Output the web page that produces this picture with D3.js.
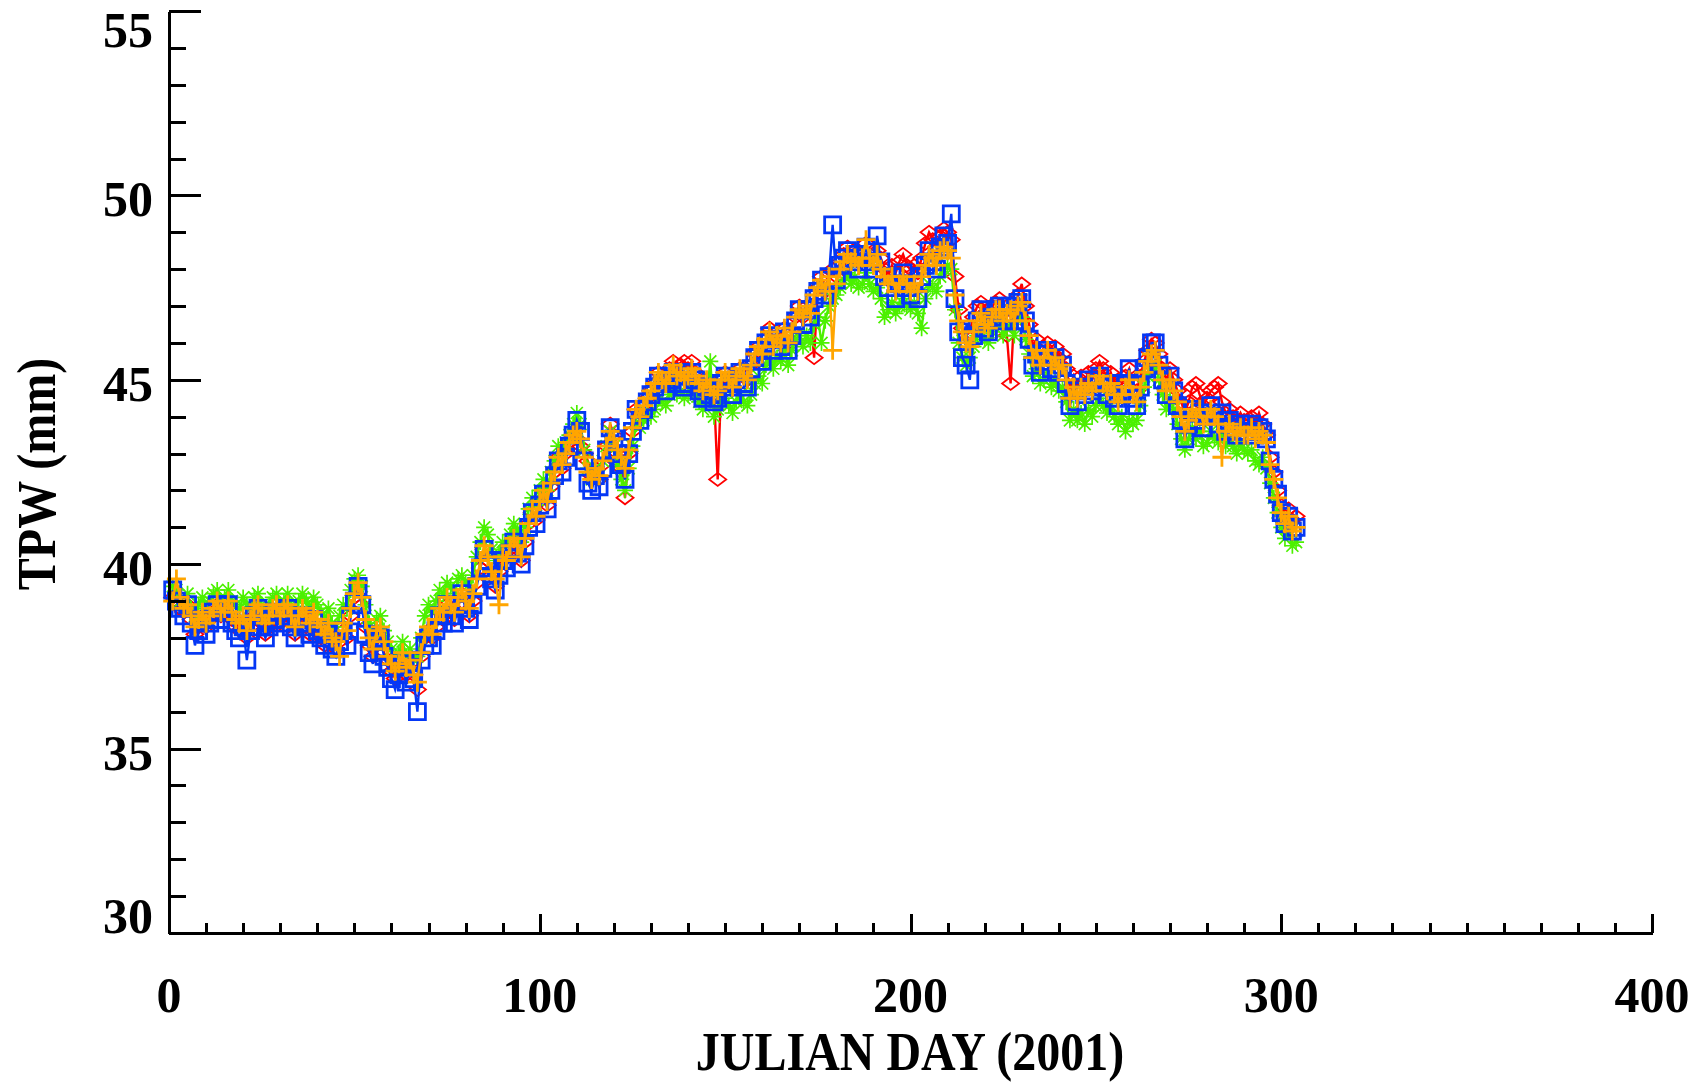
<!DOCTYPE html>
<html>
<head>
<meta charset="utf-8">
<script src="https://cdn.jsdelivr.net/npm/d3@7"></script>
<style>
  html, body { margin: 0; padding: 0; background: #ffffff; }
  svg { display: block; }
  text { font-family: "Liberation Serif", "Times New Roman", serif; font-weight: bold; fill: #000; }
</style>
</head>
<body>
<svg id="chart" width="1708" height="1084"></svg>
<script>
// Total precipitable water (mm) per Julian day of 2001, four retrievals.
const firstDay = 1;
const xTicks = [0, 100, 200, 300, 400];
const yTicks = [30, 35, 40, 45, 50, 55];
const xLabel = "JULIAN DAY (2001)";
const yLabel = "TPW (mm)";

const redValues = [
  39.1,39.0,38.8,38.7,38.9,38.5,38.1,38.3,38.6,38.3,
  38.5,38.7,38.9,38.6,38.8,38.9,38.5,38.3,38.2,38.4,
  38.0,38.3,38.6,38.8,38.4,38.1,38.3,38.5,38.7,38.4,
  38.6,38.8,38.4,38.1,38.4,38.6,38.3,38.1,38.4,38.2,
  38.0,37.8,38.1,37.8,37.7,37.9,38.2,38.0,38.6,39.1,
  39.4,38.9,38.3,37.8,37.5,38.0,38.1,37.6,37.4,37.1,
  36.9,37.1,37.4,37.0,37.3,37.0,36.6,37.5,38.0,38.2,
  38.0,38.3,38.7,38.5,38.9,38.7,38.5,38.9,39.2,38.9,
  38.6,39.0,39.5,39.9,40.4,40.1,39.7,39.4,39.8,40.1,
  40.0,40.4,40.6,40.4,40.1,40.6,41.1,41.4,41.2,41.7,
  42.0,41.6,42.1,42.5,42.9,42.6,43.0,43.3,43.5,43.4,
  43.2,43.0,42.8,42.4,42.6,42.3,42.7,43.2,43.8,43.5,
  43.0,42.6,41.8,43.0,43.6,44.2,44.0,44.3,44.5,44.7,
  44.9,45.2,45.0,44.9,45.3,45.5,45.2,45.4,45.5,45.3,
  45.5,45.2,44.9,44.7,45.0,44.8,44.6,42.3,45.0,45.2,
  45.0,44.8,45.1,45.3,45.1,45.0,45.4,45.7,45.9,45.7,
  46.1,46.4,46.0,46.3,46.1,46.4,46.0,46.3,46.7,47.0,
  46.7,47.0,46.8,45.6,47.5,47.8,47.4,47.9,48.0,47.8,
  48.2,48.4,48.6,48.3,48.5,48.2,48.4,48.7,48.4,48.2,
  48.5,48.3,48.0,47.8,48.1,47.9,48.2,48.4,48.1,48.0,
  48.1,47.9,48.3,48.7,49.0,48.8,48.6,48.9,49.1,49.0,
  48.8,47.8,46.9,46.4,46.2,46.3,46.7,47.0,47.1,46.8,
  46.7,47.0,47.1,47.2,46.9,46.2,44.9,46.8,47.3,47.6,
  47.0,46.5,45.9,46.1,45.6,45.9,46.0,45.7,45.9,45.6,
  45.7,45.3,44.8,45.1,44.8,45.1,44.9,45.2,45.0,45.3,
  45.5,45.3,45.0,45.2,44.9,44.7,44.9,45.1,45.3,44.9,
  44.7,45.1,45.5,45.8,46.1,46.0,45.7,45.3,45.0,45.3,
  45.0,44.7,44.4,44.1,44.4,44.8,44.9,44.6,44.3,44.5,
  44.7,44.8,44.9,44.4,44.1,44.2,44.0,43.9,44.1,43.9,
  43.9,44.0,43.8,44.1,43.8,43.5,42.9,42.5,42.0,41.6,
  41.3,41.5,41.2,41.3
];

const greenValues = [
  39.4,39.3,39.0,38.9,39.2,38.8,38.6,38.9,39.1,38.8,
  39.0,39.2,39.3,39.0,39.1,39.3,39.0,38.9,38.8,39.1,
  38.9,38.8,39.1,39.2,38.9,38.7,38.9,39.1,39.2,38.9,
  39.0,39.2,38.9,38.7,39.0,39.2,39.0,38.8,39.1,38.9,
  38.7,38.5,38.8,38.4,38.3,38.6,38.9,38.8,39.3,39.6,
  39.7,39.4,38.9,38.4,38.1,38.5,38.6,38.2,37.9,37.7,
  37.5,37.6,37.9,37.5,37.7,37.4,37.5,38.0,38.6,38.9,
  38.7,39.0,39.3,39.2,39.5,39.4,39.2,39.6,39.7,39.5,
  39.3,39.7,40.2,40.6,41.0,40.8,40.4,40.1,40.3,40.6,
  40.5,40.8,41.1,40.9,40.6,41.0,41.5,41.8,41.6,42.0,
  42.3,42.0,42.5,42.8,43.2,43.0,43.3,43.5,43.8,44.1,
  43.8,43.1,42.6,42.3,42.6,42.4,42.8,43.2,43.6,43.2,
  42.7,42.3,42.0,42.6,43.2,43.8,43.7,43.9,44.1,44.0,
  44.2,44.5,44.4,44.3,44.6,44.8,44.6,44.7,44.5,44.6,
  44.8,44.6,44.4,44.2,44.5,45.5,44.0,44.2,44.4,44.5,
  44.3,44.1,44.4,44.6,44.4,44.3,44.6,44.9,45.1,44.9,
  45.4,45.6,45.3,45.6,45.5,45.8,45.4,45.8,46.1,46.2,
  45.9,46.2,46.0,46.5,46.7,46.0,46.6,47.0,47.2,47.3,
  47.5,47.7,47.9,47.6,47.8,47.5,47.6,47.9,47.6,47.4,
  47.5,47.2,46.7,46.9,47.1,46.8,47.0,47.2,47.0,46.9,
  47.1,46.8,46.4,47.2,47.6,47.5,47.4,47.8,48.0,48.1,
  48.0,46.9,46.0,45.6,45.4,45.6,45.9,46.2,46.4,46.1,
  46.0,46.3,46.5,46.6,46.2,46.4,46.5,46.2,46.6,46.7,
  46.1,45.7,45.1,45.3,44.9,45.0,45.2,44.8,45.0,44.7,
  44.8,44.4,43.9,44.2,43.9,44.1,43.8,44.2,44.0,44.3,
  44.5,44.3,44.1,44.3,44.0,43.8,44.0,43.6,43.9,43.8,
  43.9,44.3,44.8,45.1,45.3,45.4,45.0,44.6,44.2,44.5,
  44.2,43.8,43.4,43.1,43.4,43.7,43.4,43.6,43.2,43.3,
  43.6,43.4,43.3,43.5,43.2,43.4,43.2,43.0,43.3,43.1,
  43.0,43.1,42.8,42.7,42.9,42.6,42.2,41.8,41.4,41.0,
  40.7,40.9,40.5,40.6
];

const blueValues = [
  39.3,39.0,38.8,38.6,38.9,38.4,37.8,38.2,38.5,38.1,
  38.4,38.7,38.9,38.5,38.7,38.9,38.4,38.2,38.0,38.3,
  37.4,38.2,38.6,38.8,38.3,38.0,38.3,38.5,38.7,38.4,
  38.6,38.8,38.3,38.0,38.4,38.6,38.3,38.1,38.5,38.2,
  38.0,37.8,38.1,37.7,37.5,37.9,38.2,37.8,38.6,39.0,
  39.4,38.9,38.1,37.6,37.3,37.9,38.0,37.5,37.2,36.9,
  36.6,37.0,37.3,36.8,37.2,36.9,36.0,37.4,37.8,38.0,
  37.8,38.2,38.6,38.4,38.9,38.6,38.4,38.9,39.2,38.8,
  38.5,38.9,39.4,39.9,40.4,40.1,39.6,39.3,39.7,40.1,
  39.9,40.3,40.6,40.3,40.0,40.5,41.0,41.4,41.1,41.6,
  41.9,41.5,42.0,42.4,42.8,42.5,42.9,43.2,43.5,43.9,
  43.6,42.8,42.2,42.0,42.4,42.1,42.6,43.1,43.7,43.4,
  43.0,42.7,42.3,43.0,43.6,44.2,43.9,44.2,44.4,44.6,
  44.8,45.1,44.9,44.7,45.0,45.2,44.9,45.1,44.8,44.9,
  45.2,45.0,44.7,44.5,44.8,44.6,44.4,44.5,44.9,45.1,
  44.8,44.6,45.0,45.2,44.9,44.8,45.3,45.6,45.8,45.5,
  46.0,46.2,45.8,46.1,45.9,46.3,45.8,46.2,46.6,46.9,
  46.5,46.9,46.7,47.2,47.4,47.7,47.3,47.8,49.2,47.7,
  48.1,48.3,48.5,48.2,48.4,48.0,48.3,48.6,48.2,48.0,
  48.9,48.2,47.8,47.5,47.8,47.2,47.6,47.9,47.5,47.3,
  47.6,47.2,47.8,48.1,48.5,48.2,48.0,48.6,48.9,48.7,
  49.5,47.2,46.3,45.6,45.4,45.0,46.2,46.6,46.9,46.4,
  46.3,46.7,46.9,47.0,46.6,46.8,47.0,46.6,47.1,47.2,
  46.6,46.1,45.4,45.7,45.2,45.5,45.8,45.3,45.6,45.2,
  45.4,44.9,44.3,44.7,44.4,44.8,44.6,45.0,44.7,44.9,
  45.1,44.8,44.6,44.9,44.5,44.3,44.6,44.9,45.3,44.5,
  44.3,44.8,45.3,45.6,46.0,46.0,45.4,45.0,44.6,45.1,
  44.7,44.3,43.9,43.4,43.8,44.2,43.9,44.1,43.7,44.0,
  44.3,44.0,43.8,44.1,43.6,43.9,43.7,43.5,43.8,43.6,
  43.6,43.8,43.5,43.7,43.6,43.4,42.8,42.3,41.9,41.4,
  41.1,41.3,40.9,41.0
];

const orangeValues = [
  39.0,39.6,39.1,38.8,38.9,38.6,38.3,38.5,38.7,38.4,
  38.6,38.8,39.0,38.7,38.8,39.0,38.7,38.5,38.4,38.6,
  38.2,38.5,38.8,38.9,38.6,38.4,38.6,38.8,38.9,38.6,
  38.8,38.9,38.6,38.3,38.6,38.8,38.6,38.4,38.7,38.5,
  38.3,38.1,38.4,38.0,37.9,37.5,38.4,38.2,38.8,39.2,
  39.5,39.1,38.5,38.0,37.7,38.2,38.3,37.9,37.5,37.3,
  37.1,37.3,37.6,37.2,37.4,37.0,36.8,37.6,38.1,38.3,
  38.1,38.5,38.8,38.7,39.1,38.9,38.7,39.1,39.3,39.0,
  38.8,39.2,39.6,40.1,40.5,40.2,39.8,39.6,38.9,40.2,
  40.1,40.5,40.7,40.5,40.2,40.7,41.1,41.5,41.3,41.7,
  42.0,41.7,42.2,42.5,42.9,42.7,43.0,43.3,43.5,43.6,
  43.4,42.9,42.5,42.3,42.6,42.4,42.8,43.2,43.6,43.4,
  43.1,42.9,42.6,43.1,43.7,44.2,44.0,44.3,44.5,44.7,
  44.9,45.2,45.0,44.9,45.2,45.4,45.1,45.2,45.0,45.1,
  45.3,45.1,44.9,44.7,45.0,44.8,44.6,44.7,45.0,45.2,
  45.0,44.8,45.1,45.3,45.1,45.0,45.4,45.7,45.9,45.7,
  46.1,46.3,45.9,46.2,46.0,46.4,46.0,46.3,46.7,46.9,
  46.7,47.0,46.8,47.3,47.5,47.7,47.4,47.8,45.8,47.6,
  48.0,48.2,48.4,48.2,48.3,48.1,48.3,48.8,48.3,48.1,
  48.4,48.0,47.8,47.6,47.8,47.4,47.6,47.8,47.6,47.4,
  47.6,47.4,47.8,48.1,48.4,48.3,48.1,48.5,48.6,48.5,
  48.3,47.3,46.6,46.3,46.0,45.9,46.3,46.6,46.8,46.5,
  46.4,46.7,46.9,46.9,46.6,46.8,46.9,46.6,47.0,47.1,
  46.6,46.2,45.6,45.8,45.4,45.6,45.8,45.4,45.6,45.3,
  45.4,45.0,44.5,44.8,44.5,44.8,44.6,44.9,44.7,44.9,
  45.1,44.9,44.7,44.9,44.6,44.4,44.6,44.8,45.0,44.6,
  44.4,44.8,45.2,45.5,45.7,45.8,45.4,45.0,44.7,45.0,
  44.7,44.4,44.0,43.6,43.9,44.2,44.0,44.2,43.8,44.0,
  44.2,44.0,43.8,42.9,43.6,43.8,43.6,43.5,43.7,43.5,
  43.5,43.7,43.4,43.6,43.5,43.3,42.7,42.3,41.8,41.4,
  41.1,41.3,40.9,41.0
];

// IDL-style plot symbols, drawn around (0,0)
const symbolPaths = {
  diamond:  "M0,-6.5L8.5,0L0,6.5L-8.5,0Z",
  asterisk: "M-8,0H8M0,-8V8M-6,-6L6,6M-6,6L6,-6",
  square:   "M-8,-8H8V8H-8Z",
  plus:     "M-9.5,0H9.5M0,-9.5V9.5"
};

// Series drawn in this order (last on top)
const series = [
  { name: "red",    values: redValues,    color: "#ff0000", symbol: "diamond",  symWidth: 1.8 },
  { name: "green",  values: greenValues,  color: "#4cf000", symbol: "asterisk", symWidth: 1.7 },
  { name: "blue",   values: blueValues,   color: "#0537f5", symbol: "square",   symWidth: 2.8 },
  { name: "orange", values: orangeValues, color: "#ffa500", symbol: "plus",     symWidth: 2.8 }
];

const svg = d3.select("#chart");
const x = d3.scaleLinear().domain([0, 400]).range([169, 1652]);
const y = d3.scaleLinear().domain([30, 55]).range([933, 11]);

const plot = svg.append("g").attr("class", "plot");

series.forEach(s => {
  const pts = s.values.map((v, i) => ({ day: firstDay + i, value: v }));
  const g = plot.append("g").attr("class", "series-" + s.name);
  g.append("path")
    .datum(pts)
    .attr("fill", "none")
    .attr("stroke", s.color)
    .attr("stroke-width", 2.4)
    .attr("d", d3.line().x(d => x(d.day)).y(d => y(d.value)));
  g.selectAll("path.sym")
    .data(pts)
    .join("path")
    .attr("class", "sym")
    .attr("fill", "none")
    .attr("stroke", s.color)
    .attr("stroke-width", s.symWidth)
    .attr("transform", d => `translate(${x(d.day)},${y(d.value)})`)
    .attr("d", symbolPaths[s.symbol]);
});

// Axes: minor and major ticks point into the plot
const axisStyle = g => {
  g.selectAll("path.domain").attr("stroke", "#000").attr("stroke-width", 3);
  g.selectAll(".tick line").attr("stroke", "#000").attr("stroke-width", 3);
  g.selectAll(".tick text").remove();
  g.attr("shape-rendering", "crispEdges");
};

const yMinor = d3.range(30, 55.5, 1);
const xMinor = d3.range(0, 401, 10);

svg.append("g").attr("transform", "translate(169,0)")
  .call(d3.axisLeft(y).tickValues(yMinor).tickSizeInner(-17).tickSizeOuter(0))
  .call(axisStyle);
svg.append("g").attr("transform", "translate(169,0)")
  .call(d3.axisLeft(y).tickValues(yTicks).tickSizeInner(-32).tickSizeOuter(0))
  .call(axisStyle);
svg.append("g").attr("transform", "translate(0,933)")
  .call(d3.axisBottom(x).tickValues(xMinor).tickSizeInner(-10).tickSizeOuter(0))
  .call(axisStyle);
svg.append("g").attr("transform", "translate(0,933)")
  .call(d3.axisBottom(x).tickValues(xTicks).tickSizeInner(-19).tickSizeOuter(0))
  .call(axisStyle);

// Tick labels
svg.append("g").selectAll("text")
  .data(yTicks)
  .join("text")
  .attr("x", 153)
  .attr("y", d => Math.min(Math.max(y(d) + 21, 47), 933))
  .attr("text-anchor", "end")
  .attr("font-size", 50)
  .text(d => d);

svg.append("g").selectAll("text")
  .data(xTicks)
  .join("text")
  .attr("x", d => x(d))
  .attr("y", 1012)
  .attr("text-anchor", "middle")
  .attr("font-size", 50)
  .text(d => d);

// Axis titles
svg.append("text")
  .attr("transform", "translate(910,1070) scale(1,1.14)")
  .attr("text-anchor", "middle")
  .attr("font-size", 48)
  .text(xLabel);

svg.append("text")
  .attr("transform", "translate(55,474) rotate(-90) scale(1,1.14)")
  .attr("text-anchor", "middle")
  .attr("font-size", 48)
  .text(yLabel);
</script>
</body>
</html>
